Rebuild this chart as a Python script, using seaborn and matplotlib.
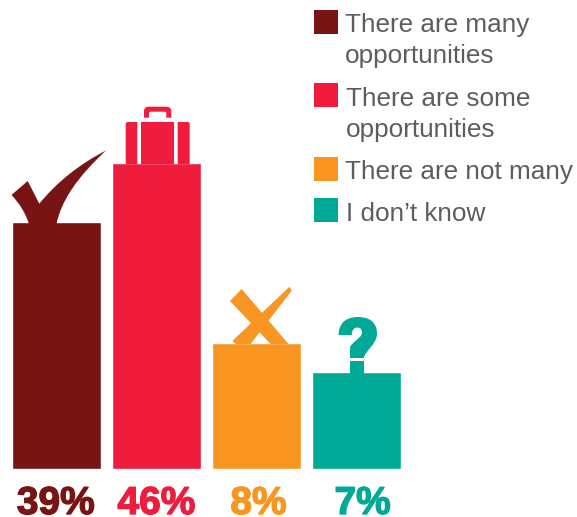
import numpy as np
import pandas as pd
import matplotlib
matplotlib.use("Agg")
import matplotlib.pyplot as plt
import matplotlib.patheffects as pe
from matplotlib.patches import PathPatch, Polygon, Rectangle
from matplotlib.path import Path
from matplotlib.transforms import Affine2D
import seaborn as sns

answers = ["There are many\nopportunities", "There are some\nopportunities",
           "There are not many", "I don\u2019t know"]
shares = [39, 46, 8, 7]
share_labels = ["39%", "46%", "8%", "7%"]
colors = ["#781413", "#ef1c3e", "#f89621", "#00a896"]
text_gray = "#5c5d5f"

W, H = 577, 517
sns.set_theme(style="white")
plt.rcParams["font.family"] = ["Liberation Sans", "DejaVu Sans"]

fig = plt.figure(figsize=(W / 100, H / 100), dpi=100)
fig.patch.set_facecolor("white")
base_px, top_px = 468.5, 163
ax = fig.add_axes([0, (H - base_px) / H, 1, (base_px - top_px) / H])

df = pd.DataFrame({"answer": answers, "share": shares})
sns.barplot(data=df, x="answer", y="share", hue="answer", palette=colors,
            dodge=False, legend=False, width=0.895, saturation=1, ax=ax)

# The infographic's bar heights are illustrative rather than linear in the
# share, so the value axis is a piecewise scale through the drawn heights.
scale_values = [0, 7, 8, 39, 46]
scale_heights = [0, 96.5, 126, 246, 305.5]
ax.set_yscale("function", functions=(
    lambda v: np.interp(v, scale_values, scale_heights),
    lambda h: np.interp(h, scale_heights, scale_values)))
ax.set_ylim(0, 46)
step = 100.1
ax.set_xlim(-56.3 / step, (W - 56.3) / step)
ax.set_axis_off()

# Everything below is laid out in image pixels (origin top-left).
px = Affine2D().scale(1, -1).translate(0, H)


def add_poly(points, color):
    fig.add_artist(Polygon(points, closed=True, facecolor=color, edgecolor="none",
                           transform=px))


def add_curve(vertices, codes, color):
    fig.add_artist(PathPatch(Path(vertices, codes), facecolor=color, edgecolor="none",
                             transform=px))


M, L, C3, C4, Z = Path.MOVETO, Path.LINETO, Path.CURVE3, Path.CURVE4, Path.CLOSEPOLY

# Tick mark on the first bar
add_curve(
    [(11.5, 195), (27.7, 181), (39.3, 203.7),
     (66, 171), (106, 150.5),
     (63, 190), (56.5, 224),
     (29, 224),
     (24, 208), (11.5, 195), (11.5, 195)],
    [M, L, L, C3, C3, C3, C3, L, C3, C3, Z], colors[0])

# Suitcase on the second bar
add_curve(
    [(125.7, 164), (125.7, 124), (125.7, 122), (128, 122), (137.3, 122), (137.3, 164), (125.7, 164)],
    [M, L, C3, C3, L, L, Z], colors[1])
add_poly([(141, 122), (174, 122), (174, 164), (141, 164)], colors[1])
add_curve(
    [(177.7, 164), (177.7, 122), (187.5, 122), (189.7, 122), (189.7, 124), (189.7, 164), (177.7, 164)],
    [M, L, L, C3, C3, L, Z], colors[1])
add_curve(
    [(144, 117.7), (144, 111), (144, 106.7), (149, 106.7), (166, 106.7), (171.3, 106.7),
     (171.3, 111), (171.3, 117.7), (166.3, 117.7), (166.3, 113), (166.3, 111.7), (164.5, 111.7),
     (151, 111.7), (149, 111.7), (149, 113), (149, 117.7), (144, 117.7)],
    [M, L, C3, C3, L, C3, C3, L, L, L, C3, C3, L, C3, C3, L, Z], colors[1])

# Cross on the third bar
add_poly([(241.7, 289), (230, 301), (270.5, 344), (288.5, 344)], colors[2])
add_poly([(289.5, 286.7), (291.7, 290.7), (250.5, 344), (236, 344), (232.3, 341)], colors[2])

# Question mark on the fourth bar
add_curve(
    [(338.5, 335),
     (339, 317.5), (357.5, 317),
     (377, 317), (377, 334),
     (377, 344), (364, 352), (364, 358),
     (350, 358), (350, 348),
     (350, 343), (362, 338), (362, 333),
     (362, 327.5), (357.5, 327.5),
     (352, 327.5), (351.7, 335),
     (338.5, 335)],
    [M, C3, C3, C3, C3, C4, C4, C4, L, L, C4, C4, C4, C3, C3, C3, C3, Z], colors[3])
add_poly([(350, 361), (364, 361), (364, 374), (350, 374)], colors[3])

# Share figures under the bars
label_offsets = [-0.5, 0, 2, 6]
for i, (label, color, dx) in enumerate(zip(share_labels, colors, label_offsets)):
    x_disp = ax.transData.transform((i, 0))[0] + dx
    fig.text(x_disp, 514, label, transform=px, ha="center", va="baseline",
             fontsize=28, fontweight="bold", color=color,
             path_effects=[pe.withStroke(linewidth=1.0, foreground=color)])

# Key at the upper right
swatch_tops = [10, 83, 157, 198]
key_lines = [[(345, 32, "There are many"), (345, 63, "opportunities")],
             [(346, 106, "There are some"), (346, 137, "opportunities")],
             [(345, 179, "There are not many")],
             [(346, 221, "I don\u2019t know")]]
for top, lines, color in zip(swatch_tops, key_lines, colors):
    fig.add_artist(Rectangle((314, top), 24, 24, facecolor=color, edgecolor="none", transform=px))
    for x, y, line in lines:
        fig.text(x, y, line, transform=px, ha="left", va="baseline",
                 fontsize=18.8, color=text_gray)

fig.savefig("out.png", dpi=100, facecolor="white")
